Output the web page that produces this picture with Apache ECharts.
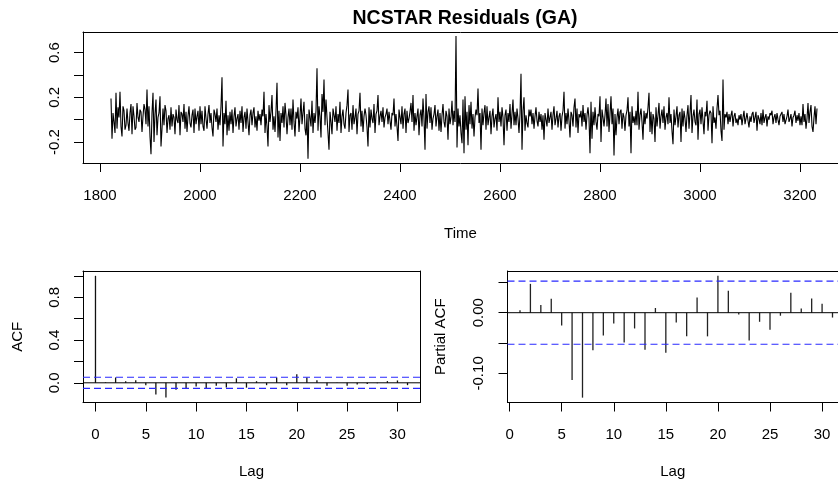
<!DOCTYPE html>
<html>
<head>
<meta charset="utf-8">
<script src="https://cdn.jsdelivr.net/npm/echarts@6/dist/echarts.min.js"></script>
<style>
html,body{margin:0;padding:0;background:#fff;}
#chart{width:838px;height:485px;}
</style>
</head>
<body>
<div id="chart"></div>
<script>
// ---- data ----
const titleText = 'NCSTAR Residuals (GA)';
const residStart = 1822;
const residStep = 2;
const residuals = [
0.19,-0.17,0.06,-0.02,-0.12,0.24,-0.08,0.11,0.02,0.25,-0.06,-0.15,0.12,0.08,-0.09,
-0.05,0.10,-0.03,-0.10,0.06,0.14,-0.13,0.12,0.03,-0.09,-0.07,0.15,0.02,-0.02,0.09,
0.07,-0.11,0.03,0.14,0.09,-0.04,0.27,-0.06,0.12,-0.15,-0.31,0.06,0.24,-0.20,0.05,
0.18,-0.14,0.02,0.06,0.21,-0.24,-0.08,0.10,-0.05,0.13,0.08,-0.12,0.01,0.04,-0.09,
0.11,-0.06,0.05,0.02,-0.13,0.09,0.00,-0.03,0.13,-0.14,0.07,0.05,-0.02,0.14,-0.08,
0.07,-0.11,0.03,0.12,-0.03,-0.07,0.04,0.09,-0.12,0.10,-0.04,0.03,0.08,-0.10,0.12,
-0.04,0.08,-0.06,-0.10,0.12,0.01,-0.08,0.05,0.13,-0.03,0.06,-0.07,-0.15,0.09,0.05,
-0.02,0.10,-0.09,0.04,-0.05,0.12,0.38,-0.24,0.06,-0.04,0.17,-0.14,0.04,-0.10,0.07,
-0.04,0.09,-0.12,0.03,0.11,-0.06,0.01,0.05,-0.09,0.08,-0.03,0.12,-0.11,0.02,0.07,
-0.08,0.10,-0.02,-0.14,0.04,0.09,-0.05,0.06,0.11,-0.07,0.03,-0.10,0.08,-0.01,0.05,
-0.05,0.09,0.03,0.25,-0.12,0.05,-0.06,-0.24,0.13,-0.02,0.07,0.22,-0.09,0.03,-0.11,
0.08,0.33,-0.16,0.08,-0.19,0.06,-0.03,0.12,-0.07,0.15,0.04,-0.13,0.02,0.10,-0.05,
0.10,-0.09,0.18,-0.02,-0.15,0.07,0.01,0.11,-0.11,0.03,0.19,-0.04,0.06,0.16,-0.08,
-0.14,0.05,-0.35,0.09,0.02,-0.06,0.17,-0.12,0.06,-0.03,0.08,0.46,-0.10,0.12,0.03,
-0.16,0.23,0.07,0.36,-0.05,0.18,0.02,-0.12,-0.27,0.07,-0.02,-0.13,0.10,0.04,-0.02,
0.12,-0.10,0.05,-0.03,0.16,-0.12,0.03,0.09,-0.04,-0.08,0.06,0.13,0.27,-0.11,0.04,
0.06,-0.09,0.13,-0.04,0.02,0.10,-0.13,0.05,0.08,0.24,-0.06,0.08,-0.11,0.03,0.10,
0.04,-0.07,-0.24,0.11,-0.07,0.09,0.01,-0.03,0.14,-0.12,0.05,0.08,0.22,-0.05,0.03,
0.08,-0.02,0.11,-0.07,0.02,0.05,0.10,-0.04,0.07,-0.01,-0.09,0.06,0.04,0.19,-0.06,
0.05,-0.06,-0.19,0.09,0.02,-0.04,0.12,-0.08,0.05,0.10,-0.12,0.08,-0.03,0.01,0.07,
0.15,-0.02,0.22,-0.10,0.06,-0.05,0.03,0.10,-0.14,0.04,0.09,-0.06,0.19,0.01,-0.27,
0.23,-0.08,0.07,0.12,-0.03,0.11,-0.09,0.01,0.05,0.13,-0.06,0.03,0.09,-0.10,0.06,
-0.11,0.04,0.14,-0.02,-0.07,0.08,0.03,-0.18,0.10,-0.04,0.02,0.17,-0.05,0.08,-0.02,
0.75,-0.25,0.10,-0.06,0.04,-0.12,-0.21,0.18,-0.30,0.21,-0.09,0.07,-0.23,0.13,-0.04,
0.16,-0.08,0.05,-0.15,0.02,0.09,0.04,0.28,-0.03,0.06,-0.27,0.10,-0.05,0.06,0.13,
-0.09,0.12,-0.05,0.02,0.08,-0.13,0.03,0.10,-0.07,0.01,0.05,-0.10,0.20,-0.02,0.07,
-0.06,0.11,0.02,-0.23,0.04,0.09,-0.10,0.06,-0.02,0.14,-0.08,0.05,0.18,-0.05,0.07,
-0.05,0.10,0.01,-0.12,0.05,0.41,-0.27,0.08,0.20,-0.10,0.04,-0.03,-0.07,0.09,0.03,
0.09,-0.04,0.06,-0.08,0.03,0.11,-0.01,-0.06,0.07,-0.02,0.05,-0.09,0.04,-0.18,0.06,
0.05,-0.06,0.10,-0.03,0.02,0.07,-0.09,0.04,0.12,-0.05,0.01,0.08,-0.07,0.03,0.06,
-0.10,0.03,0.08,0.25,-0.08,0.06,-0.04,0.10,-0.01,-0.16,0.07,0.04,-0.06,0.11,0.19,
-0.07,0.10,-0.12,0.05,0.02,0.08,-0.06,0.13,-0.02,0.06,-0.09,0.04,0.11,0.01,-0.30,
0.16,-0.17,0.07,-0.05,0.11,-0.02,-0.09,0.05,0.03,0.21,-0.20,0.09,0.02,-0.06,0.04,
0.19,-0.06,0.14,-0.11,0.05,0.21,-0.04,0.10,-0.32,0.05,-0.14,0.02,0.10,-0.04,0.07,
0.09,-0.08,0.06,0.02,-0.10,0.04,0.08,0.20,-0.06,0.07,-0.30,0.12,-0.03,0.03,-0.05,
0.08,-0.05,0.25,-0.09,0.04,0.10,-0.02,-0.18,0.08,-0.04,0.06,0.01,0.11,0.24,-0.11,
0.07,-0.13,0.05,0.01,-0.20,0.11,-0.06,0.04,0.15,-0.08,0.03,0.09,-0.03,0.12,-0.09,
0.02,0.06,-0.04,0.20,-0.03,0.05,-0.10,-0.22,0.09,-0.05,0.03,0.12,-0.07,0.04,0.07,
-0.20,0.10,-0.06,0.08,0.01,-0.11,0.04,0.13,-0.08,0.06,0.22,-0.12,0.03,0.09,-0.02,
-0.05,0.18,-0.18,0.05,0.09,-0.04,0.11,-0.01,-0.13,0.07,0.03,0.17,-0.10,0.04,0.08,
0.06,-0.21,0.12,-0.03,0.02,-0.08,0.10,0.22,0.04,0.08,-0.10,-0.19,0.36,-0.09,0.05,
0.02,0.07,-0.04,0.05,-0.02,0.04,0.08,-0.06,0.03,0.06,-0.03,0.01,-0.05,0.04,0.00,
0.05,-0.05,0.02,0.08,-0.04,0.01,0.06,-0.01,-0.07,0.03,-0.02,0.05,0.07,-0.03,0.02,
0.07,-0.10,0.04,0.01,-0.04,0.06,-0.05,0.09,-0.03,0.02,0.05,-0.06,0.03,0.00,0.06,
0.04,0.08,-0.04,0.02,0.05,-0.03,0.06,0.00,-0.05,0.03,0.04,0.07,-0.02,0.05,-0.04,
-0.04,0.03,0.09,-0.02,0.01,0.05,-0.06,0.02,0.04,0.08,-0.03,0.04,-0.01,0.06,-0.05,
0.03,-0.05,0.14,-0.02,0.05,-0.08,0.01,0.15,-0.03,0.07,0.13,-0.06,-0.11,0.02,0.12,
-0.04,0.10
];
const acfLags = [0,1,2,3,4,5,6,7,8,9,10,11,12,13,14,15,16,17,18,19,20,21,22,23,24,25,26,27,28,29,30,31];
const acfValues = [1.0,0.005,0.05,0.015,0.025,-0.022,-0.11,-0.138,-0.064,-0.052,-0.034,-0.055,-0.028,-0.043,0.042,-0.045,0.015,-0.022,0.05,-0.022,0.08,0.05,0.025,-0.028,0.003,-0.028,-0.015,-0.01,-0.005,0.016,0.022,-0.022];
const pacfLags = [1,2,3,4,5,6,7,8,9,10,11,12,13,14,15,16,17,18,19,20,21,22,23,24,25,26,27,28,29,30,31];
const pacfValues = [0.004,0.0475,0.0126,0.023,-0.0213,-0.111,-0.140,-0.062,-0.0377,-0.018,-0.049,-0.026,-0.061,0.0077,-0.066,-0.016,-0.039,0.025,-0.039,0.0607,0.036,-0.003,-0.046,-0.015,-0.028,-0.005,0.033,0.007,0.0235,0.0148,-0.008];
const confBound = 0.052;
const timeTicks = [1800,2000,2200,2400,2600,2800,3000,3200];
const residTicks = [-0.2,0.0,0.2,0.4,0.6];
const residLabels = [-0.2,0.2,0.6];
const lagTicks = [0,5,10,15,20,25,30];
const acfTicks = [0.0,0.2,0.4,0.6,0.8,1.0];
const acfLabels = [0.0,0.4,0.8];
const pacfTicks = [-0.10,-0.05,0.0,0.05];
const pacfLabels = [-0.10,0.0];

// ---- chart ----
const FONT = 'Liberation Sans, Arial, Helvetica, sans-serif';
const chart = echarts.init(document.getElementById('chart'), null, {renderer:'canvas'});
const LINE = {show:true, onZero:false, lineStyle:{color:'#000', width:1}};
const acfX = [-1.24, 32.24];
const pacfX = [-0.2, 31.528];
const BLUE = '#2828ff';

function xAx(gi, min, max, ticks, name, gap) {
  return {
    type:'value', gridIndex: gi, min:min, max:max, position:'bottom',
    name: name, nameLocation:'middle', nameGap: gap,
    nameTextStyle:{fontFamily:FONT, fontSize:15, color:'#000'},
    axisLine:LINE,
    splitLine:{show:false},
    axisTick:{show:true, customValues:ticks, length:9, lineStyle:{color:'#000', width:1}},
    axisLabel:{show:true, customValues:ticks, fontFamily:FONT, fontSize:15, color:'#000', margin:25,
      formatter: v => String(Math.round(v))}
  };
}
function yAx(gi, min, max, ticks, labels, dec, name, gap) {
  return {
    type:'value', gridIndex: gi, min:min, max:max, position:'left',
    name: name, nameLocation:'middle', nameGap: gap, nameRotate: 90,
    nameTextStyle:{fontFamily:FONT, fontSize:15, color:'#000'},
    axisLine:LINE,
    splitLine:{show:false},
    axisTick:{show:true, customValues:ticks, length:9, lineStyle:{color:'#000', width:1}},
    axisLabel:{show:true, customValues:labels, rotate:90, fontFamily:FONT, fontSize:15, color:'#000', margin:21,
      formatter: v => Number(v).toFixed(dec)}
  };
}
function frameX(gi) {
  return {type:'value', gridIndex:gi, position:'top', min:0, max:1, axisLine:LINE,
    axisTick:{show:false}, axisLabel:{show:false}, splitLine:{show:false}};
}
function frameY(gi) {
  return {type:'value', gridIndex:gi, position:'right', min:0, max:1, axisLine:LINE,
    axisTick:{show:false}, axisLabel:{show:false}, splitLine:{show:false}};
}

const residData = residuals.map((v,i) => [residStart + i*residStep, v]);
const acfData = acfLags.map((l,i) => [l, acfValues[i]]);
const pacfData = pacfLags.map((l,i) => [l, pacfValues[i]]);

function hLine(xi, yi, ext, y, color, type, width) {
  return {type:'line', xAxisIndex:xi, yAxisIndex:yi, data:[[ext[0], y],[ext[1], y]],
    showSymbol:false, symbol:'none', silent:true,
    lineStyle:{color:color, type:type, width:width}};
}

const option = {
  animation:false,
  backgroundColor:'#fff',
  title:{text:titleText, left:460, top:4, textAlign:'center',
    textStyle:{fontFamily:FONT, fontSize:19.5, fontWeight:'bold', color:'#000'}},
  grid:[
    {left:83, top:32, width:755, height:131, show:false},
    {left:83, top:271, width:337, height:131.5, show:false},
    {left:507.5, top:271, width:330.5, height:131.5, show:false}
  ],
  xAxis:[
    xAx(0, 1766, 3276, timeTicks, 'Time', 63),
    xAx(1, acfX[0], acfX[1], lagTicks, 'Lag', 62),
    xAx(2, pacfX[0], pacfX[1], lagTicks, 'Lag', 62),
    frameX(0), frameX(1), frameX(2)
  ],
  yAxis:[
    yAx(0, -0.388, 0.785, residTicks, residLabels, 1, '', 0),
    yAx(1, -0.184, 1.045, acfTicks, acfLabels, 1, 'ACF', 58),
    yAx(2, -0.148, 0.0687, pacfTicks, pacfLabels, 2, 'Partial ACF', 59),
    frameY(1)
  ],
  series:[
    {type:'line', xAxisIndex:0, yAxisIndex:0, data:residData, showSymbol:false, symbol:'none',
      lineStyle:{color:'#000', width:1.1}, clip:true},
    hLine(1, 1, acfX, confBound, BLUE, [7,4], 1.2),
    hLine(1, 1, acfX, -confBound, BLUE, [7,4], 1.2),
    hLine(1, 1, acfX, 0, '#000', 'solid', 1),
    {type:'bar', xAxisIndex:1, yAxisIndex:1, data:acfData, barWidth:1.3,
      itemStyle:{color:'#111'}},
    hLine(2, 2, pacfX, confBound, BLUE, [7,4], 1.2),
    hLine(2, 2, pacfX, -confBound, BLUE, [7,4], 1.2),
    hLine(2, 2, pacfX, 0, '#000', 'solid', 1),
    {type:'bar', xAxisIndex:2, yAxisIndex:2, data:pacfData, barWidth:1.3,
      itemStyle:{color:'#222'}}
  ]
};
chart.setOption(option);
</script>
</body>
</html>
